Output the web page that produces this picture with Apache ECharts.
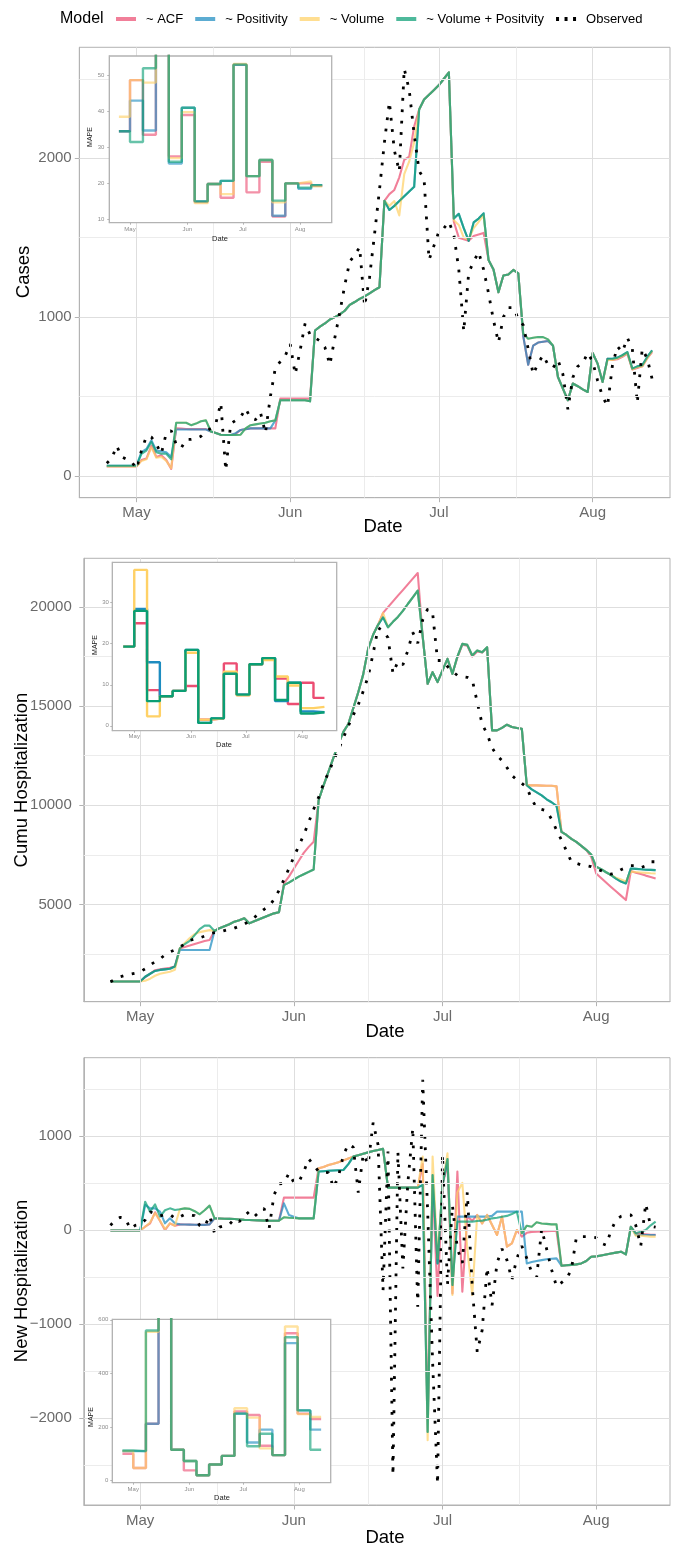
<!DOCTYPE html>
<html>
<head>
<meta charset="utf-8">
<script src="https://cdn.jsdelivr.net/npm/echarts@6/dist/echarts.min.js"></script>
<style>
  html, body { margin: 0; padding: 0; background: #ffffff; }
  #chart { width: 673px; height: 1545px; }
</style>
</head>
<body>
<div id="chart"></div>
<script>
// ---------- data ----------
const firstDate = '2020-04-25';
const lastDate = '2020-08-13';
const monthTicks = ['2020-05-01', '2020-06-01', '2020-07-01', '2020-08-01'];
const monthLabels = ['May', 'Jun', 'Jul', 'Aug'];
const modelNames = ['~ ACF', '~ Positivity', '~ Volume', '~ Volume + Positvity'];
const observedName = 'Observed';

const casesTicks = [0, 1000, 2000];
const casesMinorTicks = [500, 1500, 2500];
const cumuTicks = [5000, 10000, 15000, 20000];
const cumuMinorTicks = [2500, 7500, 12500, 17500];
const newTicks = [-2000, -1000, 0, 1000];
const newMinorTicks = [-2500, -1500, -500, 500, 1500];

// daily values, 2020-04-25 .. 2020-08-13
const casesObserved = [
  80, 110, 190, 120, 105, 90,
  45, 160, 250, 245, 200, 140, 270, 285, 200, 175,
  230, 230, 235, 250, 280, 300, 330, 460, 35, 330,
  350, 370, 425, 365, 355, 400, 270, 500, 680, 720,
  757, 830, 640, 790, 960, 890, 870, 850, 810, 700,
  870, 1030, 1200, 1350, 1390, 1440, 1070, 1250, 1520, 1800,
  2100, 2354, 2050, 1916, 2563, 2430, 2150, 1920, 1868, 1360,
  1450, 1540, 1560, 1600, 1520, 1300, 910, 1280, 1350, 1410,
  1300, 1150, 980, 840, 1000, 1060, 1060, 990, 950, 800,
  640, 710, 760, 700, 680, 730, 640, 420, 620, 690,
  710, 775, 720, 600, 500, 440, 700, 815, 780, 870,
  800, 460, 800, 740, 610
];
const casesACF = [
  60, 60, 60, 60, 60, 60,
  60, 100, 110, 190, 120, 130, 100, 45, 300, 298,
  296, 295, 295, 295, 295, 280, 270, 260, 258, 258,
  265, 290, 295, 300, 300, 300, 300, 300, 300, 487,
  487, 487, 487, 487, 487, 487, 916, 940, 960, 985,
  1000, 1017, 1040, 1077, 1095, 1115, 1130, 1150, 1170, 1188,
  1732, 1774, 1800, 1880, 1990, 2010, 2200, 2307, 2370, 2400,
  2430, 2460, 2500, 2540, 1600, 1500, 1490, 1480, 1510, 1520,
  1530, 1360, 1300, 1157, 1262, 1268, 1297, 1276, 880, 700,
  820, 840, 845, 850, 820, 623, 550, 477, 582, 565,
  545, 529, 774, 707, 592, 738, 730, 735, 750, 770,
  670, 680, 690, 740, 780
];
const casesPositivity = [
  65, 65, 65, 65, 65, 65,
  65, 150, 170, 225, 160, 155, 150, 120, 293, 293,
  293, 293, 293, 293, 293, 280, 270, 260, 258, 258,
  270, 290, 295, 300, 300, 300, 300, 300, 350, 477,
  477, 477, 477, 477, 477, 470, 916, 940, 960, 985,
  1000, 1017, 1040, 1077, 1095, 1115, 1130, 1150, 1170, 1188,
  1732, 1674, 1700, 1730, 1760, 1790, 1820, 2307, 2370, 2400,
  2430, 2460, 2500, 2540, 1620, 1650, 1560, 1480, 1596, 1620,
  1653, 1360, 1300, 1157, 1262, 1268, 1297, 1276, 880, 700,
  820, 840, 845, 850, 820, 623, 550, 477, 582, 565,
  545, 529, 774, 707, 592, 738, 738, 745, 760, 780,
  676, 690, 697, 749, 791
];
const casesVolume = [
  60, 60, 60, 60, 60, 60,
  60, 95, 105, 180, 115, 120, 95, 50, 335, 335,
  335, 320, 330, 345, 350, 280, 270, 260, 258, 258,
  258, 260, 300, 320, 325, 330, 335, 345, 350, 477,
  477, 477, 477, 477, 477, 470, 916, 940, 960, 985,
  1000, 1017, 1040, 1077, 1095, 1115, 1130, 1150, 1170, 1188,
  1732, 1700, 1730, 1640, 1900, 1980, 2100, 2307, 2370, 2400,
  2430, 2460, 2500, 2540, 1610, 1580, 1500, 1490, 1560, 1600,
  1640, 1360, 1300, 1157, 1262, 1268, 1297, 1276, 895, 864,
  870, 875, 874, 860, 820, 623, 550, 477, 582, 565,
  545, 529, 774, 707, 592, 730, 730, 740, 755, 775,
  670, 685, 690, 740, 785
];
const casesVolPos = [
  65, 65, 65, 65, 65, 65,
  65, 140, 160, 215, 150, 140, 140, 105, 335, 335,
  335, 320, 330, 345, 350, 280, 270, 260, 258, 258,
  258, 260, 300, 320, 325, 330, 335, 345, 350, 477,
  477, 477, 477, 477, 477, 470, 916, 940, 960, 985,
  1000, 1017, 1040, 1077, 1095, 1115, 1130, 1150, 1170, 1188,
  1732, 1674, 1700, 1730, 1760, 1790, 1820, 2307, 2370, 2400,
  2430, 2460, 2500, 2540, 1620, 1650, 1560, 1480, 1596, 1620,
  1653, 1360, 1300, 1157, 1262, 1268, 1297, 1276, 895, 864,
  870, 875, 874, 860, 820, 623, 550, 477, 582, 565,
  545, 529, 774, 707, 592, 738, 738, 745, 760, 780,
  676, 690, 697, 749, 791
];

const cumuObserved = [
  1100, 1230, 1350, 1420, 1480, 1530,
  1600, 1750, 1950, 2100, 2250, 2450, 2600, 2700, 2850, 3000,
  3180, 3250, 3310, 3400, 3520, 3570, 3610, 3680, 3750, 3800,
  3900, 4000, 4150, 4330, 4550, 4750, 4900, 5250, 5700, 6250,
  6800, 7400, 7950, 8500, 9150, 9800, 10400, 11100, 11650, 12250,
  12800, 13400, 14000, 14550, 15070, 15750, 16500, 17650, 18950, 18800,
  18450, 16650, 17250, 17080, 17800, 18720, 18170, 19350, 19900, 19700,
  17300, 17300, 17000, 16750, 16550, 16490, 16450, 16330, 15200, 14080,
  13600, 12900, 12500, 12250, 11900, 11500, 11280, 11100, 10900, 10300,
  9860, 9790, 9715, 9300, 8750, 8250, 7700, 7150, 7070, 6990,
  6950, 6900, 6800, 6700, 6600, 6520, 6600, 6750, 6850, 6950,
  6950, 6850, 6950, 7150, 7150
];
const cumuACF = [
  1107, 1107, 1107, 1107, 1107, 1107,
  1107, 1330, 1500, 1680, 1720, 1760, 1800, 1870, 2790, 2850,
  2920, 3000, 3080, 3150, 3205, 3658, 3800, 3900, 4000, 4127,
  4200, 4295, 4043, 4150, 4250, 4350, 4450, 4547, 4600, 6057,
  6400, 6800, 7200, 7600, 7900, 8155, 10252, 11000, 11700, 12400,
  13100, 13700, 14100, 14900, 15700, 16600, 17900, 18600, 19100, 19700,
  19990, 20280, 20570, 20850, 21140, 21430, 21712, 18500, 16125, 16712,
  16209, 16800, 17384, 16629, 17450, 18100, 18050, 17500, 17750, 17700,
  17950, 13776, 13776, 13900, 14061, 13950, 13893, 13860, 11007, 11000,
  11000, 10990, 10980, 10980, 10950, 8658, 8500, 8300, 8150, 7950,
  7750, 7400, 6560, 6330, 6100, 5880, 5660, 5440, 5218, 6678,
  6600, 6530, 6450, 6380, 6309
];
const cumuPositivity = [
  1107, 1107, 1107, 1107, 1107, 1107,
  1107, 1350, 1500, 1644, 1694, 1720, 1750, 1870, 2701, 2701,
  2701, 2701, 2701, 2701, 2701, 3658, 3800, 3900, 4000, 4127,
  4200, 4295, 4043, 4150, 4250, 4350, 4450, 4547, 4600, 5973,
  6100, 6250, 6400, 6520, 6640, 6762, 10252, 11000, 11700, 12400,
  13100, 13700, 14100, 14900, 15700, 16600, 17900, 18600, 19100, 19480,
  18977, 19250, 19500, 19800, 20150, 20480, 20823, 18500, 16125, 16712,
  16209, 16800, 17384, 16629, 17500, 18139, 18089, 17551, 17803, 17719,
  17971, 13776, 13776, 13900, 14061, 13950, 13893, 13860, 11007, 10800,
  10650, 10500, 10300, 10150, 9967, 8658, 8500, 8300, 8150, 7950,
  7750, 7517, 6896, 6780, 6620, 6480, 6300, 6150, 6057, 6812,
  6790, 6770, 6750, 6740, 6728
];
const cumuVolume = [
  1107, 1107, 1107, 1107, 1107, 1107,
  1107, 1150, 1250, 1400, 1500, 1550, 1600, 1700, 2790, 3050,
  3300, 3500, 3600, 3650, 3700, 3658, 3800, 3900, 4000, 4127,
  4200, 4295, 4043, 4150, 4250, 4350, 4450, 4547, 4600, 5973,
  6100, 6250, 6400, 6520, 6640, 6762, 10252, 11000, 11700, 12400,
  13100, 13700, 14100, 14900, 15700, 16600, 17900, 18600, 19100, 19700,
  18977, 19250, 19500, 19800, 20150, 20480, 20823, 18500, 16125, 16712,
  16209, 16800, 17384, 16629, 17500, 18139, 18089, 17551, 17803, 17719,
  17971, 13776, 13776, 13900, 14061, 13950, 13893, 13860, 11007, 11000,
  11000, 10990, 10980, 10980, 10950, 8658, 8500, 8300, 8150, 7950,
  7750, 7517, 6896, 6780, 6620, 6480, 6350, 6250, 6150, 6650,
  6630, 6610, 6590, 6570, 6560
];
const cumuVolPos = [
  1107, 1107, 1107, 1107, 1107, 1107,
  1107, 1350, 1500, 1644, 1694, 1720, 1750, 1870, 2790, 3000,
  3160, 3450, 3750, 3926, 3926, 3658, 3800, 3900, 4000, 4127,
  4200, 4295, 4043, 4150, 4250, 4350, 4450, 4547, 4600, 5973,
  6100, 6250, 6400, 6520, 6640, 6762, 10252, 11000, 11700, 12400,
  13100, 13700, 14100, 14900, 15700, 16600, 17900, 18600, 19100, 19480,
  18977, 19250, 19500, 19800, 20150, 20480, 20823, 18500, 16125, 16712,
  16209, 16800, 17384, 16629, 17500, 18139, 18089, 17551, 17803, 17719,
  17971, 13776, 13776, 13900, 14061, 13950, 13893, 13860, 11007, 10800,
  10650, 10500, 10300, 10150, 9967, 8658, 8500, 8300, 8150, 7950,
  7750, 7517, 6896, 6780, 6620, 6480, 6300, 6150, 6057, 6812,
  6790, 6770, 6750, 6740, 6728
];

const newObserved = [
  50, 110, 135, 124, 11, 50,
  60, 106, 195, 170, 150, 165, 167, 124, 140, 167,
  160, 152, 46, 35, 152, -35, 30, 46, 60, 117,
  89, 150, 195, 142, 190, 230, 11, 372, 489, 496,
  603, 507, 510, 620, 755, 691, 621, 615, 610, 450,
  567, 798, 911, 879, 397, 805, 699, 1142, 904, -640,
  833, -2606, 830, -408, 500, 1082, -816, 1596, 200, -1400,
  -2700, 800, -585, 260, -200, -350, 400, -600, -1294, -1064,
  -400, -800, -350, -200, -320, -530, -300, -170, -300, -450,
  -500, 10, -200, -420, -600, -560, -520, -420, -80, -70,
  -70, -75, -82, -140, -160, -10, 110, 145, 160, 160,
  50, -170, 280, 40, 30
];
const newACF = [
  -5, -5, -5, -5, -5, -5,
  -5, 35, 71, 188, 96, 0, 71, 46, 60, 58,
  57, 56, 55, 55, 60, 124, 122, 120, 118, 117,
  112, 108, 106, 104, 102, 100, 99, 99, 99, 344,
  344, 344, 344, 344, 344, 344, 656, 670, 690, 705,
  720, 740, 760, 780, 795, 810, 825, 840, 850, 862,
  450, 450, 450, 450, 450, 450, 450, 700, -2000, 500,
  -700, 479, 700, -674, 621, -656, 142, 100, 160, 70,
  160, 53, -53, 142, -177, -142, 0, -70, -30, -20,
  -18, -15, -12, -11, -11, -379, -375, -370, -365, -355,
  -330, -284, -280, -270, -260, -250, -240, -230, -259, 35,
  -35, -40, -45, -50, -50
];
const newPositivity = [
  -5, -5, -5, -5, -5, -5,
  -5, 266, 230, 230, 195, 71, 124, 71, 60, 58,
  57, 56, 55, 55, 60, 124, 122, 120, 118, 117,
  112, 108, 106, 104, 102, 100, 99, 99, 99, 284,
  160, 140, 124, 124, 124, 124, 621, 625, 630, 632,
  635, 638, 700, 780, 795, 810, 825, 840, 850, 862,
  450, 450, 450, 450, 450, 450, 450, 479, -2145, 585,
  -355, 479, 755, -585, 142, 142, 142, 142, 142, 142,
  142, 150, 195, 195, 195, 195, 195, 195, -355, -340,
  -330, -320, -310, -305, -301, -379, -375, -370, -365, -355,
  -330, -284, -280, -270, -260, -250, -240, -230, -259, 35,
  -53, -53, -53, -53, -53
];
const newVolume = [
  -5, -5, -5, -5, -5, -5,
  -5, 35, 80, 180, 100, 10, 71, 46, 220, 230,
  225, 200, 167, 210, 259, 124, 122, 120, 118, 117,
  112, 108, 106, 104, 102, 100, 99, 99, 99, 135,
  130, 127, 124, 124, 124, 124, 656, 670, 690, 705,
  720, 740, 760, 780, 795, 810, 825, 840, 850, 862,
  450, 450, 450, 450, 450, 450, 450, 780, -2234, 780,
  -300, 479, 815, -691, 400, 500, -200, -691, 160, 70,
  160, 53, -53, 142, -177, -142, 0, -35, 46, 35,
  82, 70, 65, 60, 60, -379, -375, -370, -365, -355,
  -330, -284, -280, -270, -260, -250, -240, -230, -259, 35,
  -60, -60, -65, -70, -70
];
const newVolPos = [
  -5, -5, -5, -5, -5, -5,
  -5, 300, 195, 273, 142, 210, 230, 213, 220, 230,
  225, 200, 167, 210, 259, 124, 122, 120, 118, 117,
  112, 108, 106, 104, 102, 100, 99, 99, 99, 135,
  130, 127, 124, 124, 124, 124, 621, 625, 630, 632,
  635, 638, 700, 780, 795, 810, 825, 840, 850, 862,
  450, 450, 450, 450, 450, 450, 450, 479, -2145, 585,
  -355, 479, 755, -585, 89, 89, 89, 89, 95, 100,
  110, 124, 130, 140, 150, 170, 195, -35, 46, 35,
  82, 70, 65, 60, 60, -379, -375, -370, -365, -355,
  -330, -284, -280, -270, -260, -250, -240, -230, -259, 35,
  -35, -18, 0, 50, 89
];

// weekly MAPE (one value per evaluation week)
const mapeWeekStarts = [
  '2020-04-25', '2020-05-01', '2020-05-08', '2020-05-15', '2020-05-22', '2020-05-29',
  '2020-06-05', '2020-06-12', '2020-06-19', '2020-06-26', '2020-07-03', '2020-07-10',
  '2020-07-17', '2020-07-24', '2020-07-31', '2020-08-07'
];
const mapeEndDate = '2020-08-13';

const casesMapeTicks = [10, 20, 30, 40, 50];
const casesMapeMinor = [15, 25, 35, 45, 55];
const casesMapeACF = [34.5, 48.7, 33.5, 62, 27.5, 39, 14.8, 19.8, 16, 53, 17.5, 26, 10.8, 20, 20, 19.3];
const casesMapePositivity = [34.5, 43, 34.7, 62, 25.5, 41, 15, 19.8, 20.7, 53, 22, 26.5, 11, 20, 18.5, 19.5];
const casesMapeVolume = [38.5, 48.7, 48, 62, 27, 39.8, 14.5, 19.8, 17, 53.2, 22, 26.5, 14.7, 20, 20.5, 19.2];
const casesMapeVolPos = [34.5, 31.5, 52, 62, 26, 41, 15, 19.8, 20.7, 53, 22, 26.5, 15.2, 20, 18.8, 19.5];

const cumuMapeTicks = [0, 10, 20, 30];
const cumuMapeMinor = [5, 15, 25, 35];
const cumuMapeACF = [19.3, 25, 8.7, 7.2, 8.5, 9.7, 1.5, 1.8, 15.2, 7.5, 15, 16.3, 11.5, 5.3, 10.5, 6.8];
const cumuMapePositivity = [19.3, 28.5, 15.5, 7.2, 8.5, 18.5, 0.7, 1.8, 12.7, 7.6, 15, 16.5, 6, 10.5, 3.5, 3.3];
const cumuMapeVolume = [19.3, 38, 2.3, 7.2, 8.5, 17.8, 1.5, 1.8, 13.2, 7.4, 15, 16, 12, 9.8, 4.3, 4.6];
const cumuMapeVolPos = [19.3, 28, 6, 7.2, 8.5, 18.5, 0.7, 1.8, 12.7, 7.6, 15, 16.5, 6.3, 10.5, 3, 3.3];

const newMapeTicks = [0, 200, 400, 600];
const newMapeMinor = [100, 300, 500];
const newMapeACF = [100, 47, 212, 650, 115, 38, 20, 60, 92, 258, 245, 130, 95, 550, 250, 230];
const newMapePositivity = [110, 110, 212, 650, 115, 73, 20, 60, 92, 250, 142, 190, 95, 513, 262, 190];
const newMapeVolume = [110, 47, 555, 650, 115, 73, 20, 60, 92, 270, 235, 120, 95, 575, 248, 237];
const newMapeVolPos = [112, 110, 560, 650, 115, 73, 20, 60, 92, 250, 128, 175, 95, 535, 262, 115];

// ---------- helpers ----------
const FONT = "'Liberation Sans', Arial, Helvetica, sans-serif";
const DAY = 86400000;
const toTs = s => Date.parse(s + 'T00:00:00Z');
const MAY1 = toTs('2020-05-01');
const atDay = d => MAY1 + d * DAY;
const modelColors = ['#EC4D72', '#1D8CC0', '#FFD166', '#0A9E74'];
const BORDER = '#B3B3B3';
const GRID_MAJOR = '#DEDEDE';
const GRID_MINOR = '#ECECEC';
const TICK_TEXT = '#6A6A6A';

const dailyDates = [];
for (let t = toTs(firstDate); t <= toTs(lastDate); t += DAY) dailyDates.push(t);
const monthTs = monthTicks.map(toTs);
const monthMidTs = monthTs.slice(1).map((t, i) => (t + monthTs[i]) / 2);
const weekTs = mapeWeekStarts.map(toTs);
const weekEndTs = toTs(mapeEndDate);

const monthLabel = v => {
  const i = monthTs.findIndex(t => Math.abs(t - v) < DAY / 2);
  return i >= 0 ? monthLabels[i] : '';
};
const numLabel = v => (v < 0 ? '\u2212' + Math.abs(v) : String(v));

const daily = vals => dailyDates.map((t, i) => [t, vals[i]]);
const weekly = vals => weekTs.map((t, i) => [t, vals[i]]).concat([[weekEndTs, vals[vals.length - 1]]]);

const panels = [
  { grid: { left: 79.3, top: 47.3, width: 590.7, height: 450.4 }, x: [-11.54, 107.6], y: [-136.5, 2698],
    ticks: casesTicks, minor: casesMinorTicks, models: [casesACF, casesPositivity, casesVolume, casesVolPos],
    observed: casesObserved, yMargin: 7.6 },
  { grid: { left: 83.8, top: 558.3, width: 586.2, height: 443.4 }, x: [-11.38, 106.9], y: [91, 22455],
    ticks: cumuTicks, minor: cumuMinorTicks, models: [cumuACF, cumuPositivity, cumuVolume, cumuVolPos],
    observed: cumuObserved, yMargin: 12 },
  { grid: { left: 83.8, top: 1057.7, width: 586.2, height: 447.3 }, x: [-11.38, 106.9], y: [-2922, 1831],
    ticks: newTicks, minor: newMinorTicks, models: [newACF, newPositivity, newVolume, newVolPos],
    observed: newObserved, yMargin: 12 }
];

const insets = [
  { grid: { left: 109.3, top: 56, width: 222.4, height: 166.7 }, x: [-11.2, 109.1], y: [9.06, 55.4],
    ticks: casesMapeTicks, minor: casesMapeMinor,
    models: [casesMapeACF, casesMapePositivity, casesMapeVolume, casesMapeVolPos], opacity: 0.62,
    bg: [84, 48, 254, 196], yMargin: 5, xMargin: 3.5 },
  { grid: { left: 112.3, top: 562.3, width: 224.4, height: 168.4 }, x: [-12.0, 110.7], y: [-1.2, 39.85],
    ticks: cumuMapeTicks, minor: cumuMapeMinor,
    models: [cumuMapeACF, cumuMapePositivity, cumuMapeVolume, cumuMapeVolPos], opacity: 1,
    bg: [88, 559, 253, 193], yMargin: 3.5, xMargin: 3 },
  { grid: { left: 112.3, top: 1319.3, width: 218.4, height: 163.4 }, x: [-11.6, 109.3], y: [-8, 602],
    ticks: newMapeTicks, minor: newMapeMinor,
    models: [newMapeACF, newMapePositivity, newMapeVolume, newMapeVolPos], opacity: 0.62,
    bg: [86, 1313, 251, 190], yMargin: 4, xMargin: 3.5 }
];

const grids = [], xAxes = [], yAxes = [], series = [], graphics = [];

function gridLineSeries(idx, yMajor, yMinor, z) {
  const data = [];
  monthMidTs.forEach(t => data.push({ xAxis: t, lineStyle: { color: GRID_MINOR, width: 1, type: 'solid' } }));
  yMinor.forEach(v => data.push({ yAxis: v, lineStyle: { color: GRID_MINOR, width: 1, type: 'solid' } }));
  monthTs.forEach(t => data.push({ xAxis: t, lineStyle: { color: GRID_MAJOR, width: 1, type: 'solid' } }));
  yMajor.forEach(v => data.push({ yAxis: v, lineStyle: { color: GRID_MAJOR, width: 1, type: 'solid' } }));
  return {
    type: 'line', name: 'grid' + idx, xAxisIndex: idx, yAxisIndex: idx, data: [], z, silent: true,
    markLine: { silent: true, symbol: ['none', 'none'], label: { show: false }, animation: false,
      emphasis: { disabled: true }, lineStyle: { type: 'solid' }, data }
  };
}

function addAxes(idx, cfg, main) {
  xAxes.push({
    type: 'value', gridIndex: idx, min: atDay(cfg.x[0]), max: atDay(cfg.x[1]), z: main ? 1 : 7,
    axisLine: { show: true, onZero: false, lineStyle: { color: BORDER, width: 1 } },
    axisTick: { show: true, customValues: monthTs, length: main ? 4.5 : 2, lineStyle: { color: BORDER } },
    axisLabel: { customValues: monthTs, formatter: monthLabel, margin: main ? 8 : cfg.xMargin,
      fontSize: main ? 15 : 6, color: main ? TICK_TEXT : '#8C8C8C', fontFamily: FONT },
    splitLine: { show: false }
  });
  yAxes.push({
    type: 'value', gridIndex: idx, min: cfg.y[0], max: cfg.y[1], z: main ? 1 : 7,
    axisLine: { show: true, onZero: false, lineStyle: { color: BORDER, width: 1 } },
    axisTick: { show: true, customValues: cfg.ticks, length: main ? 4.5 : 2, lineStyle: { color: BORDER } },
    axisLabel: { customValues: cfg.ticks, formatter: numLabel, margin: cfg.yMargin,
      fontSize: main ? 15 : 6, color: main ? TICK_TEXT : '#8C8C8C', fontFamily: FONT },
    splitLine: { show: false }
  });
}

// main panels
panels.forEach(p => {
  const idx = grids.length;
  grids.push(Object.assign({ show: true, borderColor: BORDER, borderWidth: 1, backgroundColor: 'transparent', z: 0 }, p.grid));
  addAxes(idx, p, true);
  series.push(gridLineSeries(idx, p.ticks, p.minor, 1));
  p.models.forEach((vals, m) => {
    series.push({
      type: 'line', name: modelNames[m], xAxisIndex: idx, yAxisIndex: idx, data: daily(vals),
      showSymbol: false, symbol: 'none', z: 3, silent: true,
      lineStyle: { color: modelColors[m], width: 2.1, opacity: 0.72, join: 'round' },
      itemStyle: { color: modelColors[m], opacity: 0.72 }
    });
  });
  series.push({
    type: 'line', name: observedName, xAxisIndex: idx, yAxisIndex: idx, data: daily(p.observed),
    showSymbol: false, symbol: 'none', z: 4, silent: true,
    lineStyle: { color: '#000000', width: 2.8, type: [2.8, 8.6], cap: 'butt', join: 'bevel' },
    itemStyle: { color: '#000000' }
  });
});

// MAPE insets
insets.forEach(p => {
  const idx = grids.length;
  graphics.push({ type: 'rect', z: 5, silent: true,
    shape: { x: p.bg[0], y: p.bg[1], width: p.bg[2], height: p.bg[3] }, style: { fill: '#ffffff' } });
  grids.push(Object.assign({ show: true, borderColor: BORDER, borderWidth: 1.3, backgroundColor: '#ffffff', z: 6 }, p.grid));
  addAxes(idx, p, false);
  series.push(gridLineSeries(idx, p.ticks, p.minor, 7));
  p.models.forEach((vals, m) => {
    series.push({
      type: 'line', name: modelNames[m], xAxisIndex: idx, yAxisIndex: idx, data: weekly(vals),
      step: 'end', showSymbol: false, symbol: 'none', z: 8, silent: true,
      lineStyle: { color: modelColors[m], width: 2.4, opacity: p.opacity },
      itemStyle: { color: modelColors[m] }
    });
  });
});

// titles
const txt = (text, x, y, size, rot, color) => ({
  type: 'text', x, y, rotation: rot || 0, z: 10, silent: true,
  style: { text, fontSize: size, fontFamily: FONT, fill: color || '#000000', align: 'center', verticalAlign: 'middle' }
});
graphics.push(
  { type: 'text', x: 60, y: 19, z: 10, silent: true,
    style: { text: 'Model', fontSize: 16, fontFamily: FONT, fill: '#000000', align: 'left', verticalAlign: 'middle' } },
  txt('Cases', 24, 272, 18.5, Math.PI / 2),
  txt('Date', 383, 527, 18.5),
  txt('Cumu Hospitalization', 22, 780, 18.5, Math.PI / 2),
  txt('Date', 385, 1032, 18.5),
  txt('New Hospitalization', 22, 1281, 18.5, Math.PI / 2),
  txt('Date', 385, 1538, 18.5),
  txt('MAPE', 90, 137, 7, Math.PI / 2, '#222222'),
  txt('Date', 220, 238.5, 7.5, 0, '#222222'),
  txt('MAPE', 95, 645, 7, Math.PI / 2, '#222222'),
  txt('Date', 224, 744.5, 7.5, 0, '#222222'),
  txt('MAPE', 91, 1417, 7, Math.PI / 2, '#222222'),
  txt('Date', 222, 1497.5, 7.5, 0, '#222222')
);

// legend keys: short line segments; the observed key is dotted
const legendItems = modelNames.map(n => ({ name: n, icon: 'rect' })).concat([
  { name: observedName, icon: 'path://M0,0h3v4h-3zM8.5,0h3v4h-3zM17,0h3v4h-3z' }
]);

const chart = echarts.init(document.getElementById('chart'), null, { renderer: 'canvas', width: 673, height: 1545 });
chart.setOption({
  animation: false,
  backgroundColor: '#ffffff',
  textStyle: { fontFamily: FONT },
  legend: {
    data: legendItems, left: 116, top: 12.5, orient: 'horizontal', padding: 0,
    itemWidth: 20, itemHeight: 4, itemGap: 12, selectedMode: false,
    textStyle: { fontSize: 13, color: '#000000', fontFamily: FONT, padding: [0, 0, 0, 5] }
  },
  grid: grids,
  xAxis: xAxes,
  yAxis: yAxes,
  series,
  graphic: { elements: graphics }
});
</script>
</body>
</html>
